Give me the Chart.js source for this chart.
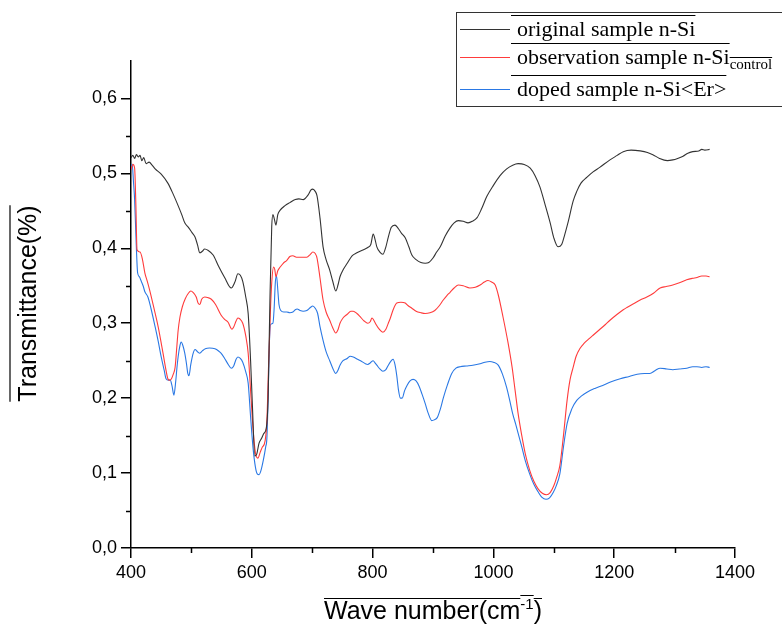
<!DOCTYPE html>
<html>
<head>
<meta charset="utf-8">
<script src="https://cdn.jsdelivr.net/npm/chart.js@4/dist/chart.umd.min.js"></script>
<style>
html,body{margin:0;padding:0;background:#fff;}
canvas{display:block;}
</style>
</head>
<body>
<canvas id="c" width="782" height="625"></canvas>
<script>
// ---- Data ----
const seriesNames = ['original sample n-Si', 'observation sample n-Si', 'doped sample n-Si<Er>'];
const seriesColors = ['#333333', '#ff3b3b', '#2a78e4'];

const originalX = [400,403,406,409,412,415,418,421,425,430,435,440,450,461,470,478,484,489,495,501,506,510,514,518,522,528,536,545,555,566,572,577,581,585,590,594,598,601,605,608,612,616,620,624,627,630,633,635,637,640,643,647,655,663,672,678,685,693,698,701,705,708,713,718,723,729,734,739,743,746,751,758,766,774,785,792,797,801,804,807,812,817,822,826,831,837,842,848,854,860,865,872,880,887,893,900,906,912,920,928,935,942,950,958,965,973,980,989,1000,1011,1022,1032,1041,1051,1061,1069,1077,1085,1094,1100,1107,1113,1118,1124,1132,1138,1145,1155,1165,1176,1193,1205,1215,1228,1243,1255,1264,1275,1288,1297,1305,1314,1322,1330,1340,1345,1350,1358];
const originalY = [0.521,0.524,0.520,0.525,0.522,0.524,0.517,0.521,0.513,0.515,0.511,0.506,0.499,0.487,0.472,0.457,0.445,0.434,0.428,0.421,0.415,0.405,0.394,0.396,0.399,0.397,0.391,0.376,0.361,0.347,0.355,0.366,0.364,0.356,0.335,0.313,0.250,0.190,0.123,0.125,0.140,0.146,0.153,0.160,0.200,0.330,0.429,0.445,0.440,0.431,0.445,0.451,0.457,0.461,0.465,0.466,0.465,0.471,0.478,0.479,0.476,0.470,0.440,0.402,0.385,0.371,0.356,0.343,0.352,0.362,0.371,0.380,0.390,0.394,0.398,0.401,0.405,0.419,0.412,0.402,0.395,0.392,0.402,0.415,0.428,0.431,0.427,0.420,0.414,0.402,0.391,0.385,0.381,0.380,0.381,0.387,0.395,0.402,0.416,0.427,0.434,0.437,0.436,0.434,0.436,0.441,0.452,0.469,0.484,0.497,0.506,0.511,0.513,0.512,0.507,0.497,0.482,0.460,0.434,0.414,0.402,0.405,0.418,0.436,0.463,0.476,0.487,0.495,0.502,0.508,0.518,0.524,0.529,0.531,0.530,0.528,0.525,0.520,0.517,0.518,0.520,0.523,0.527,0.529,0.530,0.532,0.531,0.532];

const observationX = [400,403,406,408,410,415,419,423,427,431,438,445,453,458,461,464,467,470,473,476,478,481,485,490,495,499,503,508,511,514,517,522,528,533,540,549,555,561,565,567,570,574,577,580,585,590,594,598,602,606,610,614,617,622,625,628,631,633,636,638,640,643,647,652,658,663,668,674,680,686,691,697,701,705,708,713,718,723,729,734,739,743,746,751,758,764,768,774,779,786,792,796,799,802,806,811,817,822,826,829,834,840,847,854,858,865,872,880,887,895,903,910,917,923,928,935,942,950,961,970,978,985,991,997,1003,1008,1016,1024,1031,1036,1041,1047,1053,1060,1067,1074,1081,1088,1094,1100,1105,1110,1116,1122,1127,1132,1137,1143,1150,1158,1165,1175,1185,1193,1205,1215,1221,1232,1243,1254,1265,1276,1286,1297,1308,1320,1330,1337,1345,1352,1358];
const observationY = [0.505,0.512,0.507,0.460,0.398,0.395,0.385,0.367,0.356,0.344,0.320,0.295,0.260,0.237,0.226,0.224,0.226,0.232,0.241,0.270,0.290,0.308,0.322,0.333,0.340,0.343,0.341,0.335,0.327,0.325,0.332,0.335,0.334,0.332,0.325,0.311,0.305,0.301,0.294,0.292,0.295,0.303,0.307,0.306,0.300,0.283,0.260,0.210,0.160,0.127,0.120,0.128,0.134,0.143,0.170,0.250,0.320,0.354,0.375,0.372,0.362,0.370,0.375,0.380,0.384,0.389,0.390,0.388,0.388,0.388,0.388,0.392,0.395,0.393,0.387,0.360,0.331,0.315,0.304,0.294,0.287,0.292,0.300,0.307,0.312,0.316,0.316,0.313,0.309,0.303,0.300,0.302,0.307,0.304,0.298,0.292,0.288,0.292,0.300,0.306,0.318,0.327,0.328,0.327,0.324,0.320,0.316,0.314,0.313,0.314,0.317,0.323,0.331,0.337,0.341,0.347,0.351,0.350,0.347,0.348,0.351,0.355,0.357,0.355,0.351,0.338,0.308,0.275,0.241,0.210,0.179,0.150,0.125,0.104,0.089,0.079,0.073,0.071,0.074,0.083,0.095,0.110,0.150,0.197,0.225,0.241,0.256,0.266,0.273,0.279,0.284,0.291,0.298,0.304,0.312,0.318,0.321,0.326,0.331,0.335,0.340,0.347,0.349,0.351,0.354,0.358,0.360,0.361,0.363,0.363,0.362];

const dopedX = [400,402,404,406,408,411,414,416,420,423,428,433,440,445,450,455,458,462,465,468,471,474,476,478,481,483,486,489,492,494,496,499,503,506,510,514,518,523,530,539,545,549,555,561,566,570,574,577,581,585,590,594,598,602,606,609,612,615,619,623,625,627,629,631,635,637,639,641,643,645,648,653,658,663,668,672,675,680,685,691,697,701,705,709,713,718,723,729,734,739,743,746,751,758,763,768,775,782,788,792,796,801,804,807,812,817,822,826,831,834,837,840,843,846,849,853,857,862,867,872,877,882,887,892,898,902,907,912,917,924,931,938,945,955,966,978,986,994,1000,1008,1015,1022,1027,1032,1037,1041,1047,1053,1060,1067,1074,1080,1087,1093,1099,1104,1110,1116,1122,1130,1138,1146,1155,1168,1181,1195,1210,1225,1238,1250,1259,1268,1276,1287,1297,1308,1320,1330,1337,1345,1352,1358];
const dopedY = [0.510,0.512,0.490,0.465,0.420,0.367,0.362,0.358,0.350,0.342,0.335,0.320,0.295,0.276,0.255,0.237,0.226,0.224,0.224,0.216,0.204,0.222,0.240,0.255,0.270,0.275,0.270,0.260,0.245,0.233,0.230,0.245,0.260,0.265,0.262,0.260,0.263,0.266,0.267,0.266,0.263,0.260,0.253,0.245,0.240,0.243,0.252,0.255,0.253,0.248,0.235,0.220,0.175,0.134,0.108,0.099,0.098,0.103,0.117,0.135,0.147,0.200,0.270,0.298,0.300,0.320,0.355,0.363,0.345,0.325,0.317,0.315,0.315,0.314,0.315,0.318,0.319,0.317,0.316,0.317,0.321,0.323,0.320,0.313,0.295,0.277,0.262,0.250,0.240,0.233,0.238,0.244,0.250,0.253,0.256,0.255,0.252,0.249,0.246,0.245,0.247,0.250,0.247,0.244,0.239,0.236,0.238,0.244,0.250,0.252,0.245,0.230,0.210,0.200,0.200,0.210,0.217,0.223,0.225,0.223,0.216,0.205,0.193,0.180,0.170,0.171,0.174,0.185,0.200,0.218,0.233,0.240,0.242,0.243,0.244,0.246,0.248,0.249,0.248,0.244,0.232,0.214,0.197,0.179,0.165,0.153,0.135,0.116,0.099,0.085,0.075,0.068,0.065,0.067,0.074,0.083,0.099,0.135,0.166,0.186,0.197,0.203,0.208,0.213,0.217,0.222,0.226,0.229,0.232,0.233,0.233,0.237,0.240,0.239,0.238,0.239,0.240,0.242,0.242,0.241,0.242,0.241];

const xTickValues = [400, 600, 800, 1000, 1200, 1400];
const yTickValues = [0.0, 0.1, 0.2, 0.3, 0.4, 0.5, 0.6];
const xMinorValues = [500, 700, 900, 1100, 1300];
const yMinorValues = [0.05, 0.15, 0.25, 0.35, 0.45, 0.55];

function toXY(xs, ys){ return xs.map((x,i)=>({x:x, y:ys[i]})); }

const SANS = '"Liberation Sans", Arial, sans-serif';
const SERIF = '"Liberation Serif", "Times New Roman", serif';

const decor = {
  id: 'decor',
  afterDraw(chart){
    const ctx = chart.ctx;
    const xs = chart.scales.x, ys = chart.scales.y;
    const area = chart.chartArea;
    ctx.save();
    // minor ticks
    ctx.strokeStyle = '#000';
    ctx.lineWidth = 1.5;
    ctx.beginPath();
    yMinorValues.forEach(v=>{
      const p = Math.round(ys.getPixelForValue(v))+0.5;
      ctx.moveTo(area.left-5, p); ctx.lineTo(area.left, p);
    });
    xMinorValues.forEach(v=>{
      const p = Math.round(xs.getPixelForValue(v))+0.5;
      ctx.moveTo(p, area.bottom); ctx.lineTo(p, area.bottom+5);
    });
    ctx.stroke();

    // x-axis title with overlines
    ctx.fillStyle = '#000';
    ctx.textBaseline = 'alphabetic';
    ctx.textAlign = 'left';
    const f1 = '25px ' + SANS, f2 = '15px ' + SANS;
    const partA = 'Wave number(cm', partB = '-1', partC = ')';
    ctx.font = f1; const wA = ctx.measureText(partA).width, wC = ctx.measureText(partC).width;
    ctx.font = f2; const wB = ctx.measureText(partB).width;
    const total = wA + wB + wC;
    const cx = (area.left + area.right)/2;
    let x0 = cx - total/2 + 0;
    const base = 619;
    ctx.font = f1; ctx.fillText(partA, x0, base);
    ctx.font = f2; ctx.fillText(partB, x0 + wA, base - 10);
    ctx.font = f1; ctx.fillText(partC, x0 + wA + wB, base);
    ctx.lineWidth = 1.2;
    ctx.beginPath();
    ctx.moveTo(x0, base - 20.5); ctx.lineTo(x0 + wA, base - 20.5);
    ctx.moveTo(x0 + wA, base - 23.5); ctx.lineTo(x0 + wA + wB, base - 23.5);
    ctx.moveTo(x0 + wA + wB, base - 20.5); ctx.lineTo(x0 + total, base - 20.5);
    ctx.stroke();

    // y-axis title with overline
    ctx.save();
    ctx.translate(25, (area.top + area.bottom)/2 - 1);
    ctx.rotate(-Math.PI/2);
    ctx.font = f1;
    const yt = 'Transmittance(%)';
    const wy = ctx.measureText(yt).width;
    ctx.fillText(yt, -wy/2, 11);
    ctx.beginPath();
    ctx.moveTo(-wy/2, -15); ctx.lineTo(wy/2, -15);
    ctx.stroke();
    ctx.restore();

    // legend box
    ctx.strokeStyle = '#333';
    ctx.lineWidth = 1;
    ctx.strokeRect(456.5, 12.5, 340, 94);
    const rows = [29, 57, 89];
    const baseOff = 7;
    seriesNames.forEach((name, i)=>{
      const y = rows[i];
      ctx.strokeStyle = seriesColors[i];
      ctx.lineWidth = 1;
      ctx.beginPath(); ctx.moveTo(460, y+0.5); ctx.lineTo(510, y+0.5); ctx.stroke();
      ctx.fillStyle = '#000';
      ctx.strokeStyle = '#000';
      const tx = 517, tb = y + baseOff;
      ctx.font = '22px ' + SERIF;
      ctx.fillText(name, tx, tb);
      const w = ctx.measureText(name).width;
      ctx.lineWidth = 1.2;
      ctx.beginPath(); ctx.moveTo(tx - 6, tb - 20.5); ctx.lineTo(tx + w, tb - 20.5); ctx.stroke();
      if (i === 1) {
        ctx.font = '15px ' + SERIF;
        const sub = 'control';
        ctx.fillText(sub, tx + w, tb + 5);
        const ws = ctx.measureText(sub).width;
        ctx.beginPath(); ctx.moveTo(tx + w, tb - 6.5); ctx.lineTo(tx + w + ws, tb - 6.5); ctx.stroke();
      }
    });
    ctx.restore();
  }
};

const datasets = [
  toXY(originalX, originalY),
  toXY(observationX, observationY),
  toXY(dopedX, dopedY)
].map((d,i)=>({
  label: seriesNames[i],
  data: d,
  borderColor: seriesColors[i],
  backgroundColor: seriesColors[i],
  borderWidth: 1.1,
  pointRadius: 0,
  fill: false,
  cubicInterpolationMode: 'monotone'
}));

new Chart(document.getElementById('c'), {
  type: 'line',
  data: { datasets: datasets },
  options: {
    responsive: false,
    animation: false,
    events: [],
    layout: { padding: { top: 61, right: 47, left: 0, bottom: 0 } },
    plugins: { legend: { display: false }, tooltip: { enabled: false } },
    scales: {
      x: {
        type: 'linear', min: 400, max: 1400,
        afterBuildTicks: s => { s.ticks = xTickValues.map(v=>({value:v})); },
        afterFit: s => { s.height = 77; },
        ticks: { color: '#000', font: { family: SANS, size: 18 }, padding: 4, maxRotation: 0,
                 callback: v => String(v) },
        grid: { drawOnChartArea: false, drawTicks: true, tickLength: 10, color: '#000', lineWidth: 1.5 },
        border: { display: true, color: '#000', width: 1.5 }
      },
      y: {
        type: 'linear', min: 0, max: 0.65,
        afterBuildTicks: s => { s.ticks = yTickValues.map(v=>({value:v})); },
        afterFit: s => { s.width = 131; },
        ticks: { color: '#000', font: { family: SANS, size: 18 }, padding: 4,
                 callback: v => v.toFixed(1).replace('.', ',') },
        grid: { drawOnChartArea: false, drawTicks: true, tickLength: 10, color: '#000', lineWidth: 1.5 },
        border: { display: true, color: '#000', width: 1.5 }
      }
    }
  },
  plugins: [decor]
});
</script>
</body>
</html>
